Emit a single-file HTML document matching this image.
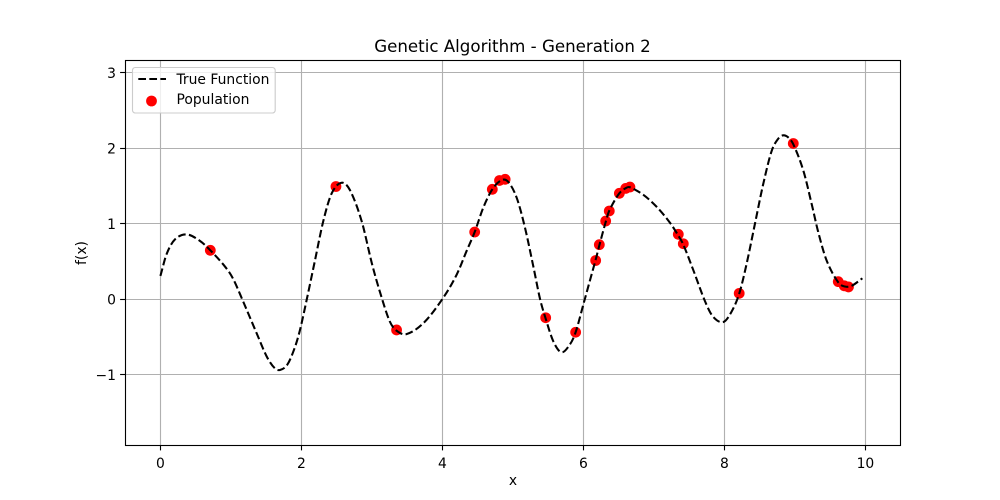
<!DOCTYPE html>
<html lang="en">
<head>
<meta charset="utf-8">
<title>Genetic Algorithm - Generation 2</title>
<style>
  html, body { margin: 0; padding: 0; background: #fff; }
  body { width: 1000px; height: 500px; overflow: hidden; }
  svg { display: block; }
  text { font-family: "DejaVu Sans", "Liberation Sans", sans-serif; fill: #000; }
</style>
</head>
<body>
<svg id="chart" xmlns="http://www.w3.org/2000/svg" width="1000" height="500" viewBox="0 0 1000 500">
  <rect x="0" y="0" width="1000" height="500" fill="#fff"/>
  <g id="grid"></g>
  <g id="population"></g>
  <path id="curve" fill="none" stroke="#000" stroke-width="2.08" stroke-dasharray="7.7 3.33"/>
  <rect x="125.5" y="60.5" width="775" height="385" fill="none" stroke="#000" stroke-width="1.11"/>
  <g id="ticks"></g>
  <text x="512.5" y="52" font-size="16.67" text-anchor="middle">Genetic Algorithm - Generation 2</text>
  <text x="513" y="485" font-size="13.89" text-anchor="middle">x</text>
  <text transform="translate(86 253) rotate(-90)" font-size="13.89" text-anchor="middle">f(x)</text>
  <g>
    <rect x="132.5" y="67.5" width="142.7" height="45.5" rx="2.8" fill="#fff" fill-opacity="0.8" stroke="#ccc" stroke-width="1.11"/>
    <line x1="138.3" y1="79" x2="166" y2="79" stroke="#000" stroke-width="2.08" stroke-dasharray="7.7 3.33"/>
    <text x="176.5" y="84" font-size="13.89">True Function</text>
    <circle cx="151.5" cy="101" r="5.4" fill="#f00"/>
    <text x="176.5" y="104" font-size="13.89">Population</text>
  </g>
</svg>
<script>
const xTicks = [0, 2, 4, 6, 8, 10];
const yTicks = [-1, 0, 1, 2, 3];
const curveX = [0, 0.09, 0.207, 0.373, 0.56, 0.708, 0.916, 1.03, 1.177, 1.366, 1.507, 1.62, 1.696, 1.80, 1.90, 1.98, 2.075, 2.19, 2.31, 2.43, 2.57, 2.69, 2.855, 3.0, 3.115, 3.25, 3.35, 3.49, 3.73, 4.0, 4.2, 4.345, 4.458, 4.58, 4.708, 4.84, 4.935, 5.054, 5.17, 5.29, 5.385, 5.465, 5.573, 5.69, 5.81, 5.89, 6.0, 6.1, 6.174, 6.226, 6.316, 6.367, 6.51, 6.614, 6.66, 6.85, 7.04, 7.228, 7.346, 7.417, 7.56, 7.725, 7.84, 7.985, 8.10, 8.21, 8.316, 8.434, 8.55, 8.67, 8.765, 8.836, 8.906, 8.977, 9.12, 9.24, 9.33, 9.45, 9.615, 9.71, 9.806, 9.957];
const curveY = [0.305, 0.60, 0.79, 0.855, 0.77, 0.645, 0.43, 0.27, -0.04, -0.455, -0.76, -0.915, -0.94, -0.87, -0.66, -0.41, -0.01, 0.50, 1.03, 1.40, 1.54, 1.44, 1.03, 0.47, 0.09, -0.29, -0.42, -0.465, -0.32, 0, 0.318, 0.64, 0.887, 1.21, 1.453, 1.575, 1.55, 1.34, 0.95, 0.43, 0.0, -0.26, -0.56, -0.706, -0.60, -0.44, -0.07, 0.27, 0.52, 0.71, 1.02, 1.17, 1.40, 1.475, 1.48, 1.38, 1.22, 1.01, 0.84, 0.72, 0.38, -0.03, -0.235, -0.305, -0.17, 0.07, 0.47, 1.0, 1.52, 1.96, 2.125, 2.168, 2.14, 2.05, 1.70, 1.25, 0.89, 0.51, 0.22, 0.165, 0.175, 0.274];
const popX = [0.708, 2.49, 3.35, 4.458, 4.708, 4.81, 4.89, 5.465, 5.89, 6.174, 6.226, 6.316, 6.367, 6.51, 6.60, 6.66, 7.346, 7.417, 8.21, 8.977, 9.615, 9.70, 9.76];
const popY = [0.645, 1.49, -0.41, 0.887, 1.453, 1.57, 1.585, -0.248, -0.44, 0.51, 0.72, 1.033, 1.166, 1.40, 1.465, 1.483, 0.857, 0.732, 0.075, 2.06, 0.23, 0.175, 0.16];

const sx = v => 160.4 + 70.5 * v;
const sy = v => 299 - 75.5 * v;
const NS = 'http://www.w3.org/2000/svg';

function make(tag, attrs, parent) {
  const el = document.createElementNS(NS, tag);
  for (const k in attrs) el.setAttribute(k, attrs[k]);
  parent.appendChild(el);
  return el;
}

const gridG = document.getElementById('grid');
const ticksG = document.getElementById('ticks');

xTicks.forEach(t => {
  const p = Math.floor(sx(t)) + 0.5;
  const g = make('line', { x1: p, x2: p, y1: 60, y2: 445, stroke: '#b0b0b0', 'stroke-width': 1.11 }, gridG);
  
  
  const m = make('line', { x1: p, x2: p, y1: 445, y2: 450.4, stroke: '#000', 'stroke-width': 1.11 }, ticksG);
  
  
  const l = make('text', { x: sx(t), y: 468, 'font-size': 13.89, 'text-anchor': 'middle' }, ticksG);
  
  
  l.textContent = String(t);
});

yTicks.forEach(t => {
  const p = Math.floor(sy(t)) + 0.5;
  const g = make('line', { x1: 125, x2: 900, y1: p, y2: p, stroke: '#b0b0b0', 'stroke-width': 1.11 }, gridG);
  
  
  const m = make('line', { x1: 120.1, x2: 125, y1: p, y2: p, stroke: '#000', 'stroke-width': 1.11 }, ticksG);
  
  
  const l = make('text', { x: 116, y: sy(t) + 5.3, 'font-size': 13.89, 'text-anchor': 'end' }, ticksG);
  
  
  l.textContent = String(t).replace('-', '\u2212');
});

const popG = document.getElementById('population');
popX.forEach((x, i) => {
  const c = make('circle', { cx: sx(x), cy: sy(popY[i]), r: 5.4, fill: '#f00' }, popG);
  
  
});

function slope(i) {
  const a = Math.max(0, i - 1);
  const b = Math.min(curveX.length - 1, i + 1);
  return (curveY[b] - curveY[a]) / (curveX[b] - curveX[a]);
}

let d = 'M' + sx(curveX[0]).toFixed(2) + ' ' + sy(curveY[0]).toFixed(2);
for (let i = 0; i < curveX.length - 1; i++) {
  const h = curveX[i + 1] - curveX[i];
  const c1x = curveX[i] + h / 3;
  const c1y = curveY[i] + slope(i) * h / 3;
  const c2x = curveX[i + 1] - h / 3;
  const c2y = curveY[i + 1] - slope(i + 1) * h / 3;
  d += 'C' + sx(c1x).toFixed(2) + ' ' + sy(c1y).toFixed(2) + ' ' +
       sx(c2x).toFixed(2) + ' ' + sy(c2y).toFixed(2) + ' ' +
       sx(curveX[i + 1]).toFixed(2) + ' ' + sy(curveY[i + 1]).toFixed(2);
}
document.getElementById('curve').setAttribute('d', d);
</script>
</body>
</html>
